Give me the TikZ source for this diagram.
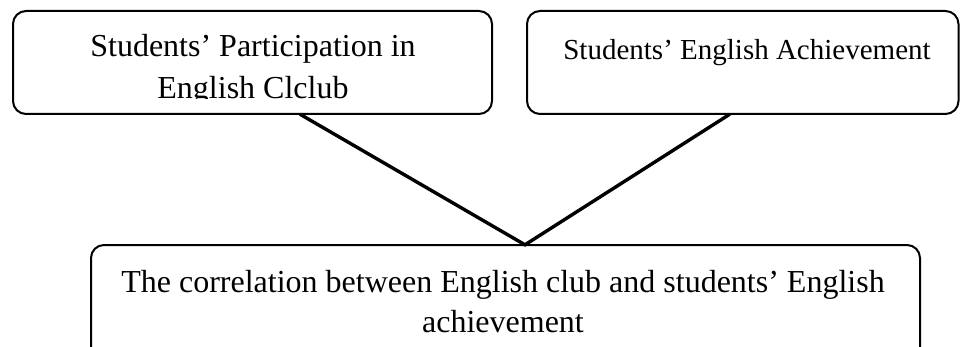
\documentclass[tikz,border=0pt]{standalone}
\usepackage{fontspec}
\setmainfont{Liberation Serif}
\usetikzlibrary{calc}
\begin{document}
\begin{tikzpicture}[x=1pt,y=-1pt,
  box/.style={draw=black,line width=2pt,rounded corners=13pt},
  txt/.style={inner sep=0pt,align=center,anchor=base},
  link/.style={draw=black,line width=3.4pt}]
\useasboundingbox (0,0) rectangle (960,347);
\clip (0,0) rectangle (960,347);
% boxes
\draw[box] (13,11) rectangle (492,114);
\node[inner sep=0pt,minimum width=479pt,minimum height=103pt] (b1) at (252.5,62.5) {};
\draw[box] (527,11) rectangle (958.5,114);
\node[inner sep=0pt,minimum width=431.5pt,minimum height=103pt] (b2) at (742.75,62.5) {};
\draw[box] (91,245) rectangle (920,380);
\node[inner sep=0pt,minimum width=829pt,minimum height=135pt] (b3) at (505.5,312.5) {};
% texts (base anchor = baseline of the last line)
\begin{scope}
\clip (13,11) rectangle (492,99);
\node[txt,font=\fontsize{32}{42}\selectfont] (t1) at (253,99) {Students’ Participation in\\English Clclub};
\end{scope}
\node[txt,font=\fontsize{29}{36}\selectfont] (t2) at (747,60) {Students’ English Achievement};
\node[txt,font=\fontsize{32}{40}\selectfont] (t3) at (503,332) {The correlation between English club and students’ English\\achievement};
% connectors
\coordinate (p1) at ($(b1.south west)!0.599!(b1.south east)$);
\coordinate (p2) at ($(b2.south west)!0.47!(b2.south east)$);
\coordinate (p3) at ($(b3.north west)!0.5235!(b3.north east)$);
\draw[link,line join=miter] (p1) -- (p3) -- (p2);
\end{tikzpicture}
\end{document}
